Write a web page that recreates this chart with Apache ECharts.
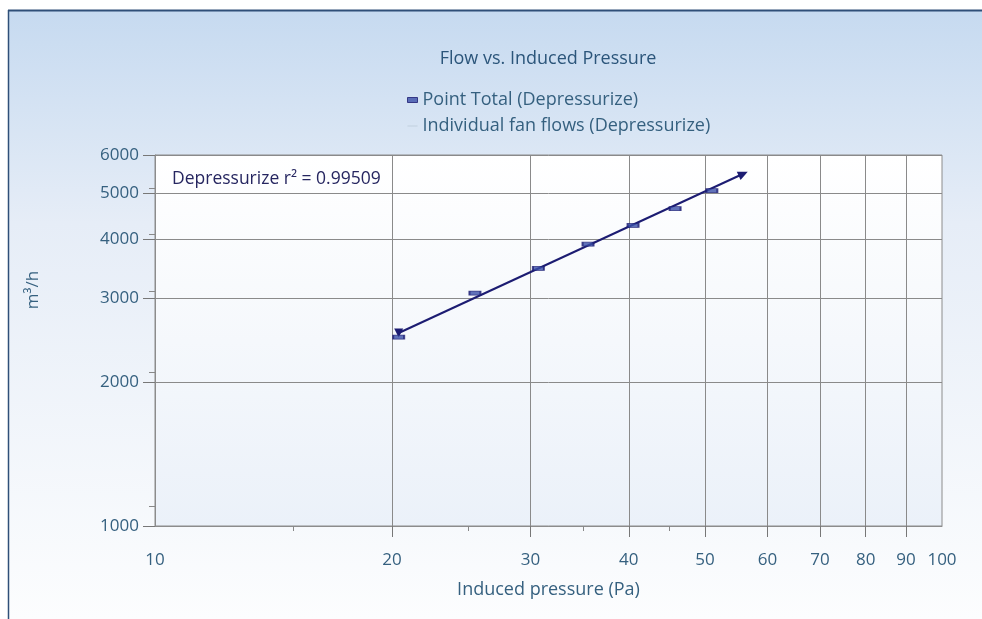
<!DOCTYPE html>
<html>
<head>
<meta charset="utf-8">
<script src="https://cdn.jsdelivr.net/npm/echarts@6/dist/echarts.min.js"></script>
<style>
  html, body { margin: 0; padding: 0; background: #ffffff; }
  #chart { width: 982px; height: 619px; }
</style>
</head>
<body>
<div id="chart"></div>
<script>
// measured points (Induced pressure Pa, flow m3/h)
const pressure = [20.4, 25.5, 30.7, 35.5, 40.5, 45.8, 51.0];
const flow = [2490, 3080, 3470, 3900, 4270, 4630, 5050];

// fitted line ends
const fitPressure = [20.4, 55.9];
const fitFlow = [2540, 5480];

// axis ticks
const xLabels = [10, 20, 30, 40, 50, 60, 70, 80, 90, 100];
const xMajorTicks = [20, 30, 40, 50, 60, 70, 80, 90];
const xMinorTicks = [15, 25, 35, 45];
const yLabels = [1000, 2000, 3000, 4000, 5000, 6000];
const yMinorTicks = [1100, 2100, 3100, 4100, 5100];

const fontFamily = "'Open Sans', 'Noto Sans', sans-serif";
const textBlue = "#35607f";
const navy = "#1c1c72";

const chart = echarts.init(document.getElementById("chart"));

const pointData = pressure.map((p, i) => [p, flow[i]]);
const fitData = [
  { value: [fitPressure[0], fitFlow[0]], symbol: "triangle", symbolRotate: 180, symbolSize: 9 },
  { value: [fitPressure[1], fitFlow[1]], symbol: "triangle", symbolRotate: -65, symbolSize: [9, 10] },
];

const option = {
  animation: false,
  textStyle: { fontFamily: fontFamily },
  title: {
    text: "Flow vs. Induced Pressure",
    left: 543,
    textAlign: "center",
    top: 45,
    textStyle: { color: "#2b557a", fontSize: 18, fontWeight: "normal", fontFamily: fontFamily },
  },
  legend: {
    orient: "vertical",
    left: 402,
    top: 86,
    itemGap: 8,
    itemWidth: 10,
    itemHeight: 5,
    textStyle: { color: textBlue, fontSize: 18, fontFamily: fontFamily },
    data: [
      { name: "Point Total (Depressurize)", icon: "rect", itemStyle: { color: "#3a4fa8", borderColor: navy, borderWidth: 1 } },
      { name: "Individual fan flows (Depressurize)", icon: "path://M0,0 L10,0 L10,1 L0,1 Z", itemStyle: { color: "#bccbdb" } },
    ],
  },
  graphic: [
    {
      type: "rect",
      z: -10,
      shape: { x: 8, y: 10, width: 974, height: 609 },
      style: {
        fill: {
          type: "linear", x: 0, y: 0, x2: 0, y2: 1,
          colorStops: [
            { offset: 0, color: "#c6daf0" },
            { offset: 0.35, color: "#e6edf7" },
            { offset: 1, color: "#fcfdfe" },
          ],
        },
      },
    },
    { type: "line", z: -9, shape: { x1: 8, y1: 10.5, x2: 982, y2: 10.5 }, style: { stroke: "#2f4f78", lineWidth: 2 } },
    { type: "line", z: -9, shape: { x1: 8.5, y1: 10, x2: 8.5, y2: 619 }, style: { stroke: "#2f4f78", lineWidth: 1.5 } },
    {
      type: "text",
      x: 33,
      y: 290,
      rotation: Math.PI / 2,
      style: { text: "m³/h", fill: textBlue, fontSize: 17, fontFamily: fontFamily, align: "center", verticalAlign: "middle" },
    },
    {
      type: "text",
      x: 172,
      y: 179,
      z: 10,
      style: { text: "Depressurize r² = 0.99509", fill: "#262660", fontSize: 17.5, fontFamily: fontFamily, verticalAlign: "middle" },
    },
  ],
  grid: {
    left: 155,
    right: 40,
    top: 155,
    bottom: 93,
    show: true,
    borderColor: "#8c8c8c",
    borderWidth: 1,
    backgroundColor: {
      type: "linear", x: 0, y: 0, x2: 0, y2: 1,
      colorStops: [
        { offset: 0, color: "#ffffff" },
        { offset: 1, color: "#ebf1f9" },
      ],
    },
  },
  xAxis: [
    {
      type: "log",
      logBase: 10,
      min: 10,
      max: 100,
      name: "Induced pressure (Pa)",
      nameLocation: "middle",
      nameGap: 55,
      nameTextStyle: { color: textBlue, fontSize: 18, fontFamily: fontFamily },
      axisLine: { show: true, lineStyle: { color: "#8c8c8c" } },
      axisTick: { show: true, customValues: xMajorTicks, length: 11, lineStyle: { color: "#777777" } },
      axisLabel: { customValues: xLabels, margin: 26, color: textBlue, fontSize: 17, fontFamily: fontFamily },
      splitLine: { show: true, lineStyle: { color: "#8a8a8a", width: 1 } },
      minorTick: { show: false },
    },
    {
      type: "log",
      logBase: 10,
      min: 10,
      max: 100,
      position: "bottom",
      axisLine: { show: false },
      axisTick: { show: true, customValues: xMinorTicks, length: 5, lineStyle: { color: "#888888" } },
      axisLabel: { show: false },
      splitLine: { show: false },
    },
  ],
  yAxis: [
    {
      type: "log",
      logBase: 10,
      min: 1000,
      max: 6000,
      axisLine: { show: true, lineStyle: { color: "#8c8c8c" } },
      axisTick: { show: true, customValues: yLabels, length: 12, lineStyle: { color: "#777777" } },
      axisLabel: {
        customValues: yLabels,
        margin: 16,
        color: textBlue,
        fontSize: 17,
        fontFamily: fontFamily,
        formatter: (v) => String(v),
      },
      splitLine: { show: true, lineStyle: { color: "#8a8a8a", width: 1 } },
    },
    {
      type: "log",
      logBase: 10,
      min: 1000,
      max: 6000,
      position: "left",
      axisLine: { show: false },
      axisTick: { show: true, customValues: yMinorTicks, length: 6, lineStyle: { color: "#888888" } },
      axisLabel: { show: false },
      splitLine: { show: false },
    },
  ],
  series: [
    {
      name: "Depressurize fit",
      type: "line",
      data: fitData,
      showSymbol: true,
      lineStyle: { color: navy, width: 2 },
      itemStyle: { color: navy },
      z: 3,
    },
    {
      name: "Point Total (Depressurize)",
      type: "scatter",
      data: pointData,
      symbol: "rect",
      symbolSize: [11, 4],
      itemStyle: { color: "#3a4fa8", borderColor: navy, borderWidth: 1.2 },
      z: 4,
    },
    {
      name: "Individual fan flows (Depressurize)",
      type: "scatter",
      data: [],
      itemStyle: { color: "#bccbdb" },
    },
  ],
};

chart.setOption(option);
</script>
</body>
</html>
